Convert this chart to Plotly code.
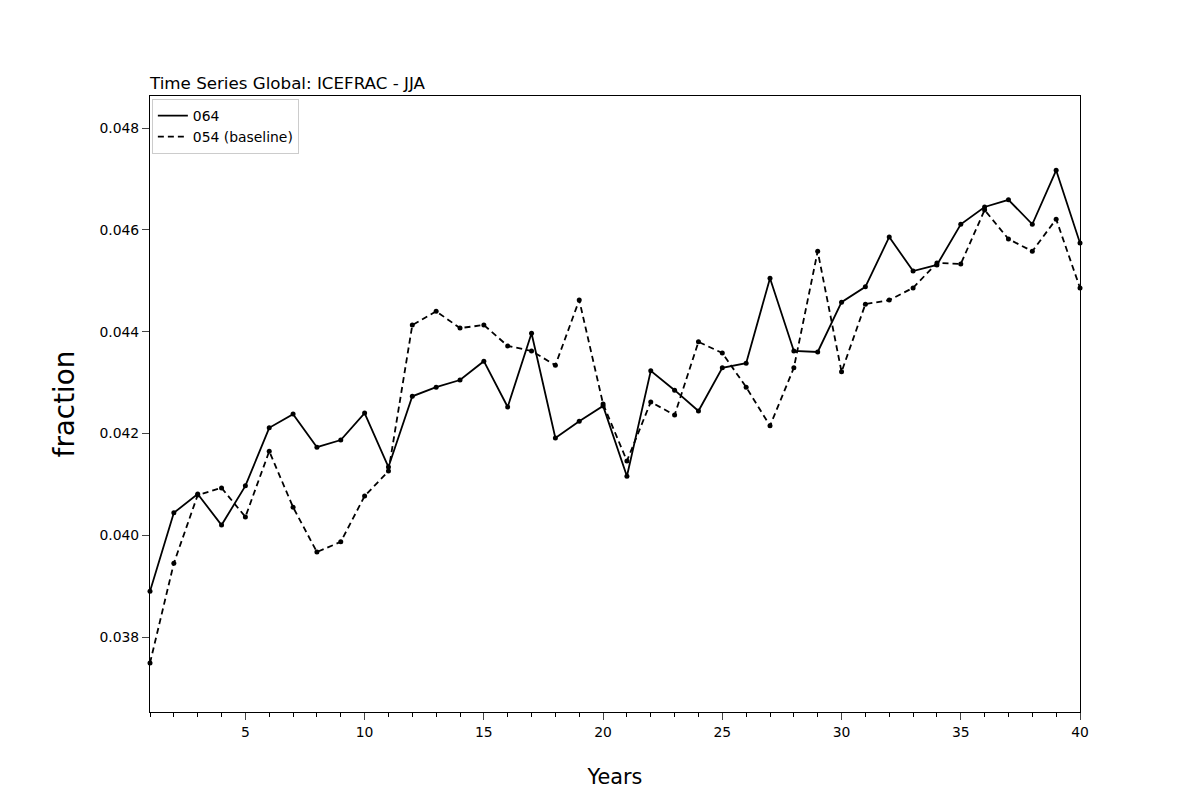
import plotly.graph_objects as go

years = list(range(1, 41))
test_064 = [0.03890, 0.04044, 0.04081, 0.04020, 0.04097, 0.04211, 0.04238, 0.04173, 0.04187, 0.04240,
            0.04134, 0.04273, 0.04291, 0.04305, 0.04342, 0.04252, 0.04397, 0.04191, 0.04224, 0.04254,
            0.04116, 0.04323, 0.04285, 0.04244, 0.04329, 0.04338, 0.04505, 0.04362, 0.04360, 0.04458,
            0.04488, 0.04586, 0.04519, 0.04531, 0.04611, 0.04645, 0.04659, 0.04611, 0.04717, 0.04574]
base_054 = [0.03749, 0.03945, 0.04079, 0.04093, 0.04036, 0.04165, 0.04055, 0.03967, 0.03987, 0.04077,
            0.04126, 0.04413, 0.04440, 0.04407, 0.04413, 0.04372, 0.04362, 0.04334, 0.04462, 0.04258,
            0.04146, 0.04262, 0.04236, 0.04380, 0.04358, 0.04291, 0.04215, 0.04329, 0.04558, 0.04321,
            0.04454, 0.04462, 0.04486, 0.04535, 0.04533, 0.04639, 0.04582, 0.04558, 0.04621, 0.04486]
y_ticks = [0.038, 0.040, 0.042, 0.044, 0.046, 0.048]

fig = go.Figure()
fig.add_trace(go.Scatter(x=years, y=test_064, mode="lines", name="064",
                         line=dict(color="black", width=1.8), cliponaxis=False))
fig.add_trace(go.Scatter(x=years, y=base_054, mode="lines", name="054 (baseline)",
                         line=dict(color="black", width=1.8, dash="6px,4px"), cliponaxis=False))
fig.add_trace(go.Scatter(x=years, y=test_064, mode="markers", showlegend=False,
                         marker=dict(color="black", size=5), cliponaxis=False))
fig.add_trace(go.Scatter(x=years, y=base_054, mode="markers", showlegend=False,
                         marker=dict(color="black", size=5), cliponaxis=False))

fig.update_layout(
    width=1200, height=800,
    paper_bgcolor="white", plot_bgcolor="white",
    margin=dict(l=142, r=128, t=88, b=96),
    font=dict(family="DejaVu Sans", size=13.9, color="black"),
    title=dict(text="Time Series Global: ICEFRAC - JJA", x=142/1200, xanchor="left",
               y=1-75/800, yanchor="middle", font=dict(size=16.7)),
    showlegend=True,
    legend=dict(x=0.002, y=0.995, xanchor="left", yanchor="top",
                bordercolor="#cccccc", borderwidth=1, bgcolor="rgba(255,255,255,0.8)",
                font=dict(size=13.9)),
    xaxis=dict(range=[1, 40], tick0=0, dtick=5, ticks="outside", ticklen=7, tickwidth=1,
               showline=True, linecolor="black", linewidth=1, mirror=True, showgrid=False,
               zeroline=False,
               minor=dict(dtick=1, tick0=0, ticks="outside", ticklen=4, tickcolor="black"),
               title=dict(text="Years", font=dict(size=20.8), standoff=30)),
    yaxis=dict(range=[0.036527, 0.04863], tickvals=y_ticks, tickformat=".3f", ticks="outside",
               ticklen=7, tickwidth=1, showline=True, linecolor="black", linewidth=1, mirror=True,
               showgrid=False, zeroline=False,
               title=dict(text="fraction", font=dict(size=27.8), standoff=16)),
)

fig.write_html("out.html")
